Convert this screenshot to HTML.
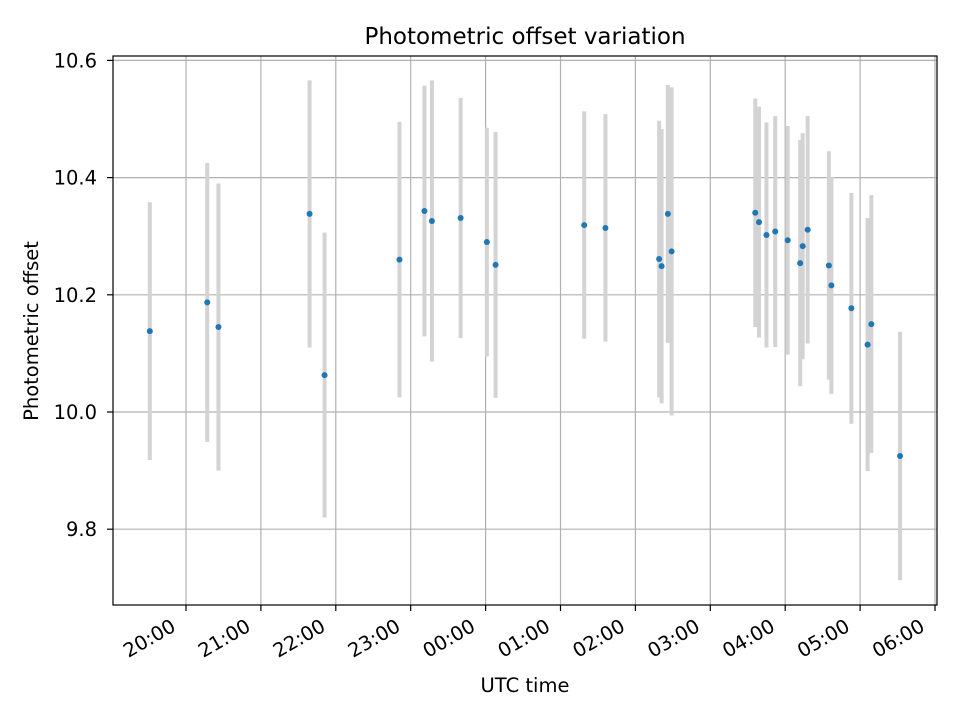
<!DOCTYPE html>
<html><head><meta charset="utf-8"><style>
body{margin:0;background:#fff;font-family:"DejaVu Sans","Liberation Sans",sans-serif}
</style></head><body>
<svg id="chart" width="960" height="720" xmlns="http://www.w3.org/2000/svg" font-family="DejaVu Sans, Liberation Sans, sans-serif">
<rect width="960" height="720" fill="#fff"/>
<text x="525" y="44" font-size="23" text-anchor="middle">Photometric offset variation</text>
<text x="525" y="692" font-size="19.5" text-anchor="middle">UTC time</text>
<text transform="translate(38,331) rotate(-90)" font-size="19.5" text-anchor="middle">Photometric offset</text>
<g id="grid"></g><g id="bars"></g><g id="pts"></g><g id="ticks"></g>
<rect x="113" y="56" width="824" height="549" fill="none" stroke="#000" stroke-width="1.2"/>
</svg>
<script>
const times=["19:31","20:17","20:26","21:39","21:51","22:51","23:11","23:17","23:40","00:01","00:08","01:19","01:36","02:19","02:21","02:26","02:29","03:36","03:39","03:45","03:52","04:02","04:12","04:14","04:18","04:35","04:37","04:53","05:06","05:09","05:32"];
const offsets=[10.138,10.187,10.145,10.338,10.063,10.26,10.343,10.326,10.331,10.29,10.251,10.319,10.314,10.261,10.249,10.338,10.274,10.34,10.324,10.302,10.308,10.293,10.254,10.283,10.311,10.25,10.216,10.177,10.115,10.15,9.925];
const errors=[0.22,0.238,0.245,0.228,0.243,0.235,0.214,0.24,0.205,0.195,0.227,0.194,0.194,0.236,0.234,0.22,0.28,0.195,0.197,0.192,0.197,0.195,0.21,0.193,0.194,0.195,0.185,0.197,0.216,0.22,0.212];
const xTickLabels=["20:00","21:00","22:00","23:00","00:00","01:00","02:00","03:00","04:00","05:00","06:00"];
const yTickValues=[9.8,10.0,10.2,10.4,10.6];
const NS="http://www.w3.org/2000/svg";
function mins(t){let [h,m]=t.split(":").map(Number);if(h<12)h+=24;return (h-20)*60+m;}
function xs(mn){return 186+mn*74.9/60;}
function ys(v){return 412-(v-10)*586;}
function mk(tag,attrs,parent){const e=document.createElementNS(NS,tag);for(const k in attrs)e.setAttribute(k,attrs[k]);document.getElementById(parent).appendChild(e);return e;}
xTickLabels.forEach((l,i)=>{
  const x=xs(mins(l));
  const g=mk("line",{x1:x,x2:x,y1:56,y2:605,stroke:"#b0b0b0","stroke-width":1.2},"grid");
  
  
  const t=mk("line",{x1:x,x2:x,y1:605,y2:611,stroke:"#000","stroke-width":1.2},"ticks");
  
  
  const ax=x-9, ay=630;
  const tx=mk("text",{x:ax,y:ay,"font-size":19.5,"text-anchor":"end",transform:`rotate(-30 ${ax} ${ay})`},"ticks");
  tx.textContent=l;
  
  
});
yTickValues.forEach(v=>{
  const y=ys(v);
  const g=mk("line",{x1:113,x2:937,y1:y,y2:y,stroke:"#b0b0b0","stroke-width":1.2},"grid");
  
  
  const t=mk("line",{x1:107,x2:113,y1:y,y2:y,stroke:"#000","stroke-width":1.2},"ticks");
  
  
  const tx=mk("text",{x:97,y:y+7,"font-size":19.5,"text-anchor":"end"},"ticks");
  tx.textContent=v.toFixed(1);
  
  
});
times.forEach((t,i)=>{
  const x=xs(mins(t));
  const b=mk("line",{x1:x,x2:x,y1:ys(offsets[i]+errors[i]),y2:ys(offsets[i]-errors[i]),stroke:"#d3d3d3","stroke-width":4},"bars");
  
  
  const p=mk("circle",{cx:x,cy:ys(offsets[i]),r:3,fill:"#1f77b4"},"pts");
  
  
});
</script>
</body></html>
